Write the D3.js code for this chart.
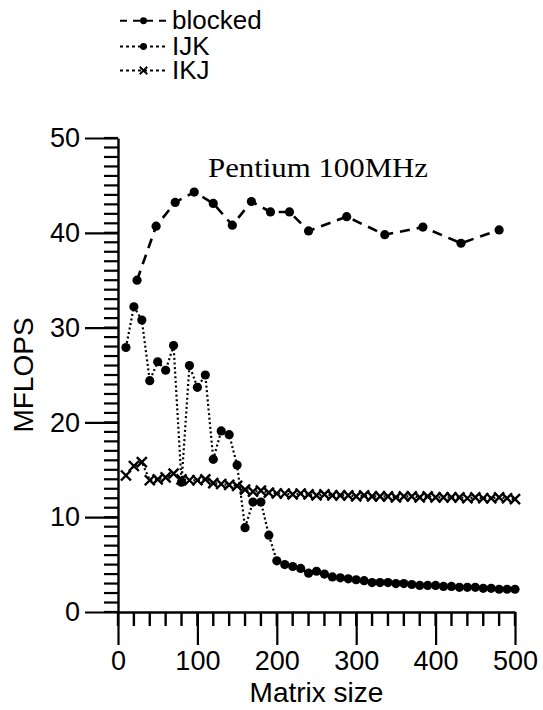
<!DOCTYPE html>
<html>
<head>
<meta charset="utf-8">
<script src="https://cdn.jsdelivr.net/npm/d3@7"></script>
<style>
  body { margin: 0; background: #fff; }
  svg { display: block; }
</style>
</head>
<body>
<div id="chart"></div>
<script>
const width = 543;
const height = 710;

// Matrix sizes and MFLOPS
const blockedSizes = [24, 48, 72, 96, 120, 144, 168, 192, 216, 240, 288, 336, 384, 432, 480];
const blockedMflops = [35.0, 40.7, 43.2, 44.3, 43.1, 40.8, 43.3, 42.2, 42.2, 40.2, 41.7, 39.8, 40.6, 38.9, 40.3];

const sizes = [10, 20, 30, 40, 50, 60, 70, 80, 90, 100,
  110, 120, 130, 140, 150, 160, 170, 180, 190, 200,
  210, 220, 230, 240, 250, 260, 270, 280, 290, 300,
  310, 320, 330, 340, 350, 360, 370, 380, 390, 400,
  410, 420, 430, 440, 450, 460, 470, 480, 490, 500];

const ijkMflops = [27.9, 32.2, 30.8, 24.4, 26.4, 25.5, 28.1, 13.7, 26.0, 23.7,
  25.0, 16.1, 19.1, 18.7, 15.5, 8.9, 11.6, 11.6, 8.1, 5.4,
  5.0, 4.8, 4.6, 4.1, 4.3, 4.0, 3.7, 3.6, 3.5, 3.4,
  3.3, 3.1, 3.1, 3.1, 3.0, 3.0, 2.9, 2.8, 2.8, 2.8,
  2.7, 2.7, 2.6, 2.6, 2.6, 2.5, 2.5, 2.4, 2.4, 2.4];

const ikjMflops = [14.4, 15.4, 15.8, 13.9, 14.0, 14.2, 14.6, 14.0, 13.9, 13.9,
  14.0, 13.6, 13.5, 13.4, 13.3, 12.9, 12.7, 12.8, 12.6, 12.5,
  12.5, 12.4, 12.5, 12.4, 12.3, 12.4, 12.3, 12.3, 12.3, 12.2,
  12.3, 12.2, 12.2, 12.2, 12.1, 12.2, 12.2, 12.1, 12.2, 12.1,
  12.1, 12.1, 12.1, 12.0, 12.1, 12.0, 12.0, 12.1, 12.0, 11.9];

const xMajorTicks = [0, 100, 200, 300, 400, 500];
const yMajorTicks = [0, 10, 20, 30, 40, 50];
const xMinorTicks = d3.range(0, 501, 20);
const yMinorTicks = d3.range(0, 51, 1);

const series = [
  { name: 'blocked', xs: blockedSizes, ys: blockedMflops, dash: '10,7', width: 2.6, marker: 'dot' },
  { name: 'IJK', xs: sizes, ys: ijkMflops, dash: '2,2.6', width: 2.2, marker: 'dot' },
  { name: 'IKJ', xs: sizes, ys: ikjMflops, dash: '2,2.6', width: 2.2, marker: 'cross' }
];

const sans = '"Liberation Sans", Arial, Helvetica, sans-serif';
const serif = '"Liberation Serif", "Times New Roman", serif';

const svg = d3.select('#chart')
  .append('svg')
  .attr('width', width)
  .attr('height', height);

svg.append('rect').attr('width', width).attr('height', height).attr('fill', '#fff');

const x = d3.scaleLinear().domain([0, 500]).range([118, 515]);
const y = d3.scaleLinear().domain([0, 50]).range([612, 138]);

// minor ticks
svg.append('g')
  .selectAll('line')
  .data(xMinorTicks)
  .join('line')
  .attr('x1', d => x(d)).attr('x2', d => x(d))
  .attr('y1', y(0)).attr('y2', y(0) + 14)
  .attr('stroke', '#000')
  .attr('stroke-width', 2.4);

svg.append('g')
  .selectAll('line')
  .data(yMinorTicks)
  .join('line')
  .attr('x1', x(0) - 14).attr('x2', x(0))
  .attr('y1', d => y(d)).attr('y2', d => y(d))
  .attr('stroke', '#000')
  .attr('stroke-width', 2.2);

// major ticks + labels
const xAxis = svg.append('g')
  .attr('transform', `translate(0,${y(0)})`)
  .call(d3.axisBottom(x).tickValues(xMajorTicks).tickSize(33).tickSizeOuter(0).tickPadding(6));

const yAxis = svg.append('g')
  .attr('transform', `translate(${x(0)},0)`)
  .call(d3.axisLeft(y).tickValues(yMajorTicks).tickSize(33).tickSizeOuter(0).tickPadding(5));

[xAxis, yAxis].forEach(g => {
  g.select('.domain').attr('stroke', '#000').attr('stroke-width', 2.4);
  g.selectAll('.tick line').attr('stroke', '#000').attr('stroke-width', 2.2);
  g.selectAll('text')
    .attr('fill', '#000')
    .style('font-family', sans)
    .style('font-size', '27px');
});

// axis titles
svg.append('text')
  .attr('x', (x(0) + x(500)) / 2)
  .attr('y', 702)
  .attr('text-anchor', 'middle')
  .style('font-family', sans)
  .style('font-size', '28px')
  .text('Matrix size');

svg.append('text')
  .attr('transform', `translate(33,${(y(0) + y(50)) / 2}) rotate(-90)`)
  .attr('text-anchor', 'middle')
  .style('font-family', sans)
  .style('font-size', '28px')
  .text('MFLOPS');

svg.append('text')
  .attr('x', 208)
  .attr('y', 177)
  .attr('textLength', 220)
  .attr('lengthAdjust', 'spacingAndGlyphs')
  .style('font-family', serif)
  .style('font-size', '27px')
  .text('Pentium 100MHz');

// lines
const line = d3.line().x(d => x(d[0])).y(d => y(d[1]));

function drawMarker(g, kind, cx, cy, s) {
  if (kind === 'dot') {
    g.append('circle').attr('cx', cx).attr('cy', cy).attr('r', 4.6 * s).attr('fill', '#000');
  } else {
    const h = 5 * s;
    g.append('path')
      .attr('d', `M${cx - h},${cy - h}L${cx + h},${cy + h}M${cx - h},${cy + h}L${cx + h},${cy - h}`)
      .attr('stroke', '#000')
      .attr('stroke-width', 2.4 * s);
  }
}

series.forEach(s => {
  const pts = s.xs.map((v, i) => [v, s.ys[i]]);
  const g = svg.append('g');
  g.append('path')
    .datum(pts)
    .attr('fill', 'none')
    .attr('stroke', '#000')
    .attr('stroke-width', s.width)
    .attr('stroke-dasharray', s.dash)
    .attr('d', line);
  pts.forEach(p => drawMarker(g, s.marker, x(p[0]), y(p[1]), 1));
});

// legend
const legendRows = [20.7, 46.5, 70.5];
series.forEach((s, i) => {
  const ly = legendRows[i];
  const g = svg.append('g');
  g.append('line')
    .attr('x1', 120).attr('x2', 167)
    .attr('y1', ly).attr('y2', ly)
    .attr('stroke', '#000')
    .attr('stroke-width', 2)
    .attr('stroke-dasharray', s.name === 'blocked' ? '7,6' : '3,3');
  drawMarker(g, s.marker, 143.5, ly, 0.75);
  g.append('text')
    .attr('x', 172)
    .attr('y', ly + 8)
    .style('font-family', sans)
    .style('font-size', '26px')
    .text(s.name);
});
</script>
</body>
</html>
